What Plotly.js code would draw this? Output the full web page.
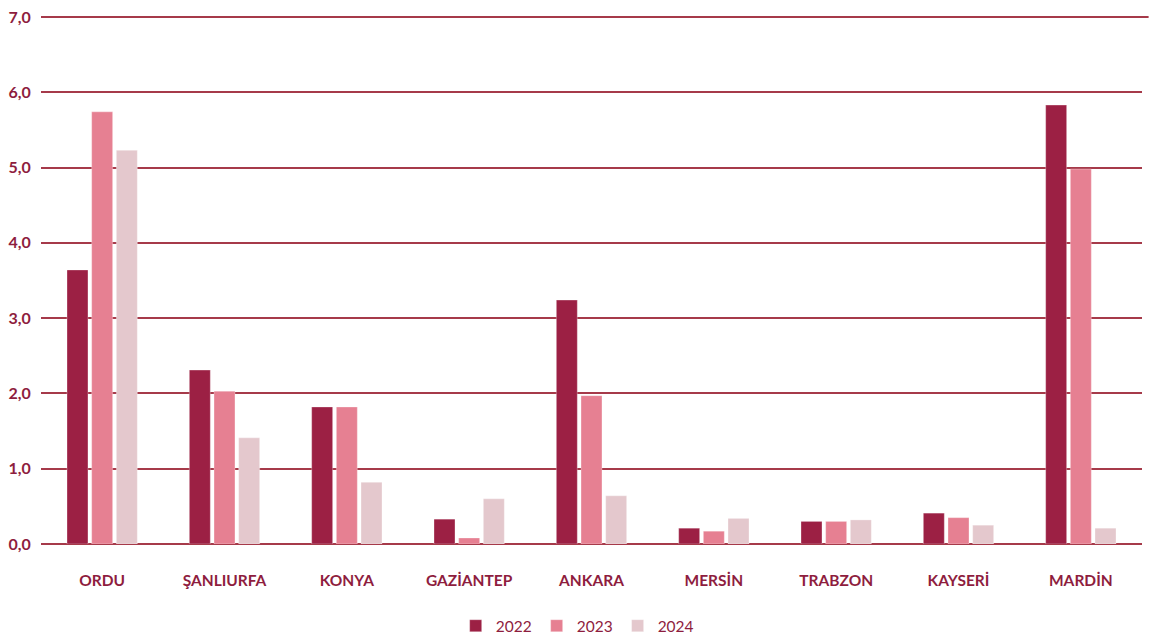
<!DOCTYPE html>
<html>
<head>
<meta charset="utf-8">
<script src="https://cdn.plot.ly/plotly-3.0.1.min.js"></script>
<style>html,body{margin:0;padding:0;background:#fff;}#chart{width:1149px;height:637px;}</style>
</head>
<body>
<div id="chart"></div>
<script>
const categories = ["ORDU", "ŞANLIURFA", "KONYA", "GAZİANTEP", "ANKARA", "MERSİN", "TRABZON", "KAYSERİ", "MARDİN"];
const values2022 = [3.64, 2.31, 1.82, 0.33, 3.24, 0.21, 0.30, 0.41, 5.83];
const values2023 = [5.74, 2.03, 1.82, 0.08, 1.97, 0.17, 0.30, 0.35, 4.98];
const values2024 = [5.23, 1.41, 0.82, 0.60, 0.64, 0.34, 0.32, 0.25, 0.21];
const seriesNames = ["2022", "2023", "2024"];
const yTicks = [0, 1, 2, 3, 4, 5, 6, 7];

const colors = ["#9C2044", "#E68092", "#E4C8CD"];
const textColor = "#8E1D3E";
const gridColor = "#A63A4A";
const font = "Lato, 'Open Sans', sans-serif";

const data = [values2022, values2023, values2024].map((v, i) => ({
  type: "bar",
  name: seriesNames[i],
  x: categories,
  y: v,
  marker: {color: colors[i], line: {color: "rgba(255,255,255,0.6)", width: 0.5}},
  hoverinfo: "x+y"
}));

const yMax = yTicks[yTicks.length - 1];

const layout = {
  width: 1149,
  height: 637,
  margin: {l: 41, r: 7, t: 17, b: 93, autoexpand: false},
  paper_bgcolor: "#fff",
  plot_bgcolor: "#fff",
  separators: ",.",
  barmode: "group",
  bargap: 0.395,
  bargroupgap: 0.15,
  showlegend: true,
  legend: {
    orientation: "h",
    x: 0.487, xanchor: "center",
    yref: "container",
    y: 0.017, yanchor: "middle",
    font: {family: font, size: 15.5, color: textColor},
    itemwidth: 30,
    tracegroupgap: 0
  },
  shapes: [{
    type: "line", xref: "paper", yref: "paper",
    x0: 0, x1: 1.006, y0: 1, y1: 1,
    line: {color: gridColor, width: 2},
    layer: "below"
  }],
  xaxis: {
    type: "category",
    tickfont: {family: font, size: 15.5, color: textColor, weight: "bold"},
    ticks: "outside",
    ticklen: 22,
    tickcolor: "rgba(0,0,0,0)",
    showline: false,
    showgrid: false,
    automargin: false,
    fixedrange: true
  },
  yaxis: {
    range: [0, yMax],
    tickvals: yTicks,
    tickformat: ".1f",
    tickfont: {family: font, size: 16, color: textColor, weight: "bold"},
    ticks: "outside",
    ticklen: 6,
    tickcolor: "rgba(0,0,0,0)",
    showgrid: true,
    gridcolor: gridColor,
    gridwidth: 2,
    zeroline: true,
    zerolinecolor: gridColor,
    zerolinewidth: 2,
    showline: false,
    automargin: false,
    fixedrange: true
  }
};

Plotly.newPlot("chart", data, layout, {displayModeBar: false, staticPlot: true});
</script>
</body>
</html>
